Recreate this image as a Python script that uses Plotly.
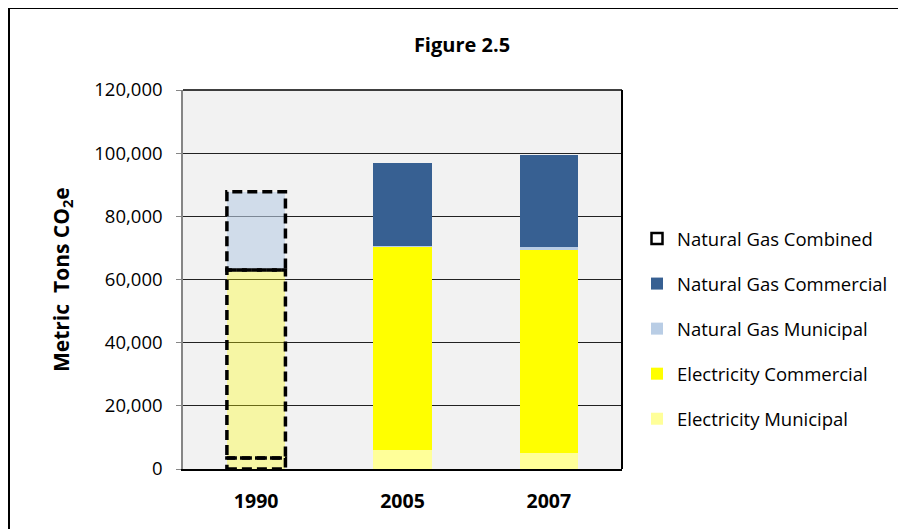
import plotly.graph_objects as go

# ---- data ----
years = ["1990", "2005", "2007"]
elec_municipal = [3500, 6000, 5000]
elec_commercial = [59500, 64300, 64400]
ng_municipal = [0, 400, 1000]
ng_commercial = [0, 26300, 28900]
ng_combined = [24800, 0, 0]
estimated_years = ["1990"]
y_tick_vals = [0, 20000, 40000, 60000, 80000, 100000, 120000]
y_tick_text = ["0", "20,000", "40,000", "60,000", "80,000", "100,000", "120,000"]

# ---- styles ----
FONT = "Open Sans"
C_NG_COM = "#376092"
C_NG_MUN = "#B9CDE5"
C_EL_COM = "#FFFF00"
C_EL_MUN = "#FFFF99"
C_EST_EL = "rgba(255,255,0,0.32)"
C_EST_NG = "rgba(185,205,229,0.6)"
BAR_W = 0.4

WIN_W, WIN_H = 906, 529
OFF = 8                      # page body margin
W, H = WIN_W - OFF, WIN_H - OFF
PX0, PX1, PY0, PY1 = 183, 622, 90, 469   # plot area in window pixels
L, T = PX0 - OFF, PY0 - OFF
R, B = WIN_W - PX1, WIN_H - PY1
PW, PH = PX1 - PX0, PY1 - PY0


def px_x(p):
    return (p - PX0) / PW


def px_y(p):
    return (PY1 - p) / PH


def measured(vals):
    return [0 if y in estimated_years else v for y, v in zip(years, vals)]


def estimated(vals):
    return [v if y in estimated_years else 0 for y, v in zip(years, vals)]


fig = go.Figure()
fig.add_trace(go.Bar(x=years, y=measured(elec_municipal), name="Electricity Municipal",
                     legendgroup="em", legendrank=5,
                     marker=dict(color=C_EL_MUN, line_width=0)))
fig.add_trace(go.Bar(x=years, y=estimated(elec_municipal), name="Electricity Municipal",
                     legendgroup="em", showlegend=False,
                     marker=dict(color=C_EST_EL, line_width=0)))
fig.add_trace(go.Bar(x=years, y=measured(elec_commercial), name="Electricity Commercial",
                     legendgroup="ec", legendrank=4,
                     marker=dict(color=C_EL_COM, line_width=0)))
fig.add_trace(go.Bar(x=years, y=estimated(elec_commercial), name="Electricity Commercial",
                     legendgroup="ec", showlegend=False,
                     marker=dict(color=C_EST_EL, line_width=0)))
fig.add_trace(go.Bar(x=years, y=ng_municipal, name="Natural Gas Municipal",
                     legendgroup="nm", legendrank=3,
                     marker=dict(color=C_NG_MUN, line_width=0)))
fig.add_trace(go.Bar(x=years, y=ng_commercial, name="Natural Gas Commercial",
                     legendgroup="nc", legendrank=2,
                     marker=dict(color=C_NG_COM, line_width=0)))
fig.add_trace(go.Bar(x=years, y=ng_combined, name="Natural Gas Combined",
                     legendgroup="nx", legendrank=1,
                     marker=dict(color=C_EST_NG, line_width=0), showlegend=False))
# legend entry for the dashed (combined / estimated) series
fig.add_trace(go.Scatter(x=[None], y=[None], mode="markers", name="Natural Gas Combined",
                         legendgroup="nx", legendrank=1,
                         marker=dict(symbol="square-open", size=11, color="black",
                                     line=dict(width=2.5))))

# dashed outlines around the estimated segments
shapes = []
for i, yr in enumerate(years):
    if yr in estimated_years:
        segs = [elec_municipal[i], elec_commercial[i], ng_combined[i]]
        base = 0
        for v in segs:
            if v > 0:
                shapes.append(dict(type="rect", xref="x", yref="y",
                                   x0=i - BAR_W / 2, x1=i + BAR_W / 2,
                                   y0=base, y1=base + v,
                                   line=dict(color="black", width=3.5, dash="10px,5px"),
                                   fillcolor="rgba(0,0,0,0)", layer="above"))
            base += v

# plot-area top & right border
shapes.append(dict(type="line", xref="paper", yref="paper", x0=0, x1=1, y0=1, y1=1,
                   line=dict(color="black", width=1.5)))
shapes.append(dict(type="line", xref="paper", yref="paper", x0=1, x1=1, y0=0, y1=1,
                   line=dict(color="black", width=2)))
# outer chart frame (extends beyond the visible window at right/bottom)
shapes.append(dict(type="rect", xref="paper", yref="paper",
                   x0=px_x(9), x1=px_x(WIN_W + 20), y0=px_y(WIN_H + 20), y1=px_y(8),
                   line=dict(color="black", width=2), fillcolor="rgba(0,0,0,0)"))

fig.update_layout(
    width=W, height=H,
    margin=dict(l=L, r=R, t=T, b=B),
    barmode="stack", bargap=1 - BAR_W,
    paper_bgcolor="white", plot_bgcolor="#F2F2F2",
    font=dict(family=FONT, size=18, color="black"),
    title=dict(text="<b>Figure 2.5</b>", x=(462 - OFF) / W, xref="container", xanchor="center",
               y=1 - (45 - OFF) / H, yref="container", yanchor="middle",
               font=dict(family=FONT, size=20, color="black")),
    shapes=shapes,
    showlegend=True,
    legend=dict(x=px_x(637), xanchor="left", y=px_y(220), yanchor="top",
                traceorder="grouped", tracegroupgap=18,
                font=dict(family=FONT, size=18.5, color="black"),
                bgcolor="rgba(0,0,0,0)"),
    annotations=[dict(text="<b>Metric&nbsp; Tons CO<sub>2</sub>e</b>", textangle=-90,
                      xref="paper", yref="paper", x=px_x(62), y=px_y(280),
                      xanchor="center", yanchor="middle", showarrow=False,
                      font=dict(family=FONT, size=21, color="black"))],
)
fig.update_xaxes(type="category", showline=True, linecolor="black", linewidth=2,
                 ticks="outside", ticklen=14, tickcolor="rgba(0,0,0,0)",
                 tickfont=dict(family=FONT, size=19.5, weight="bold"),
                 showgrid=False)
fig.update_yaxes(range=[0, 120000], tickvals=y_tick_vals, ticktext=y_tick_text,
                 showline=True, linecolor="#868686", linewidth=1.5,
                 ticks="outside", ticklen=5, tickcolor="#868686",
                 ticklabelstandoff=10,
                 showgrid=True, gridcolor="#222222", gridwidth=1.2,
                 zeroline=False, tickfont=dict(family=FONT, size=18.5))

fig.write_html("out.html")
